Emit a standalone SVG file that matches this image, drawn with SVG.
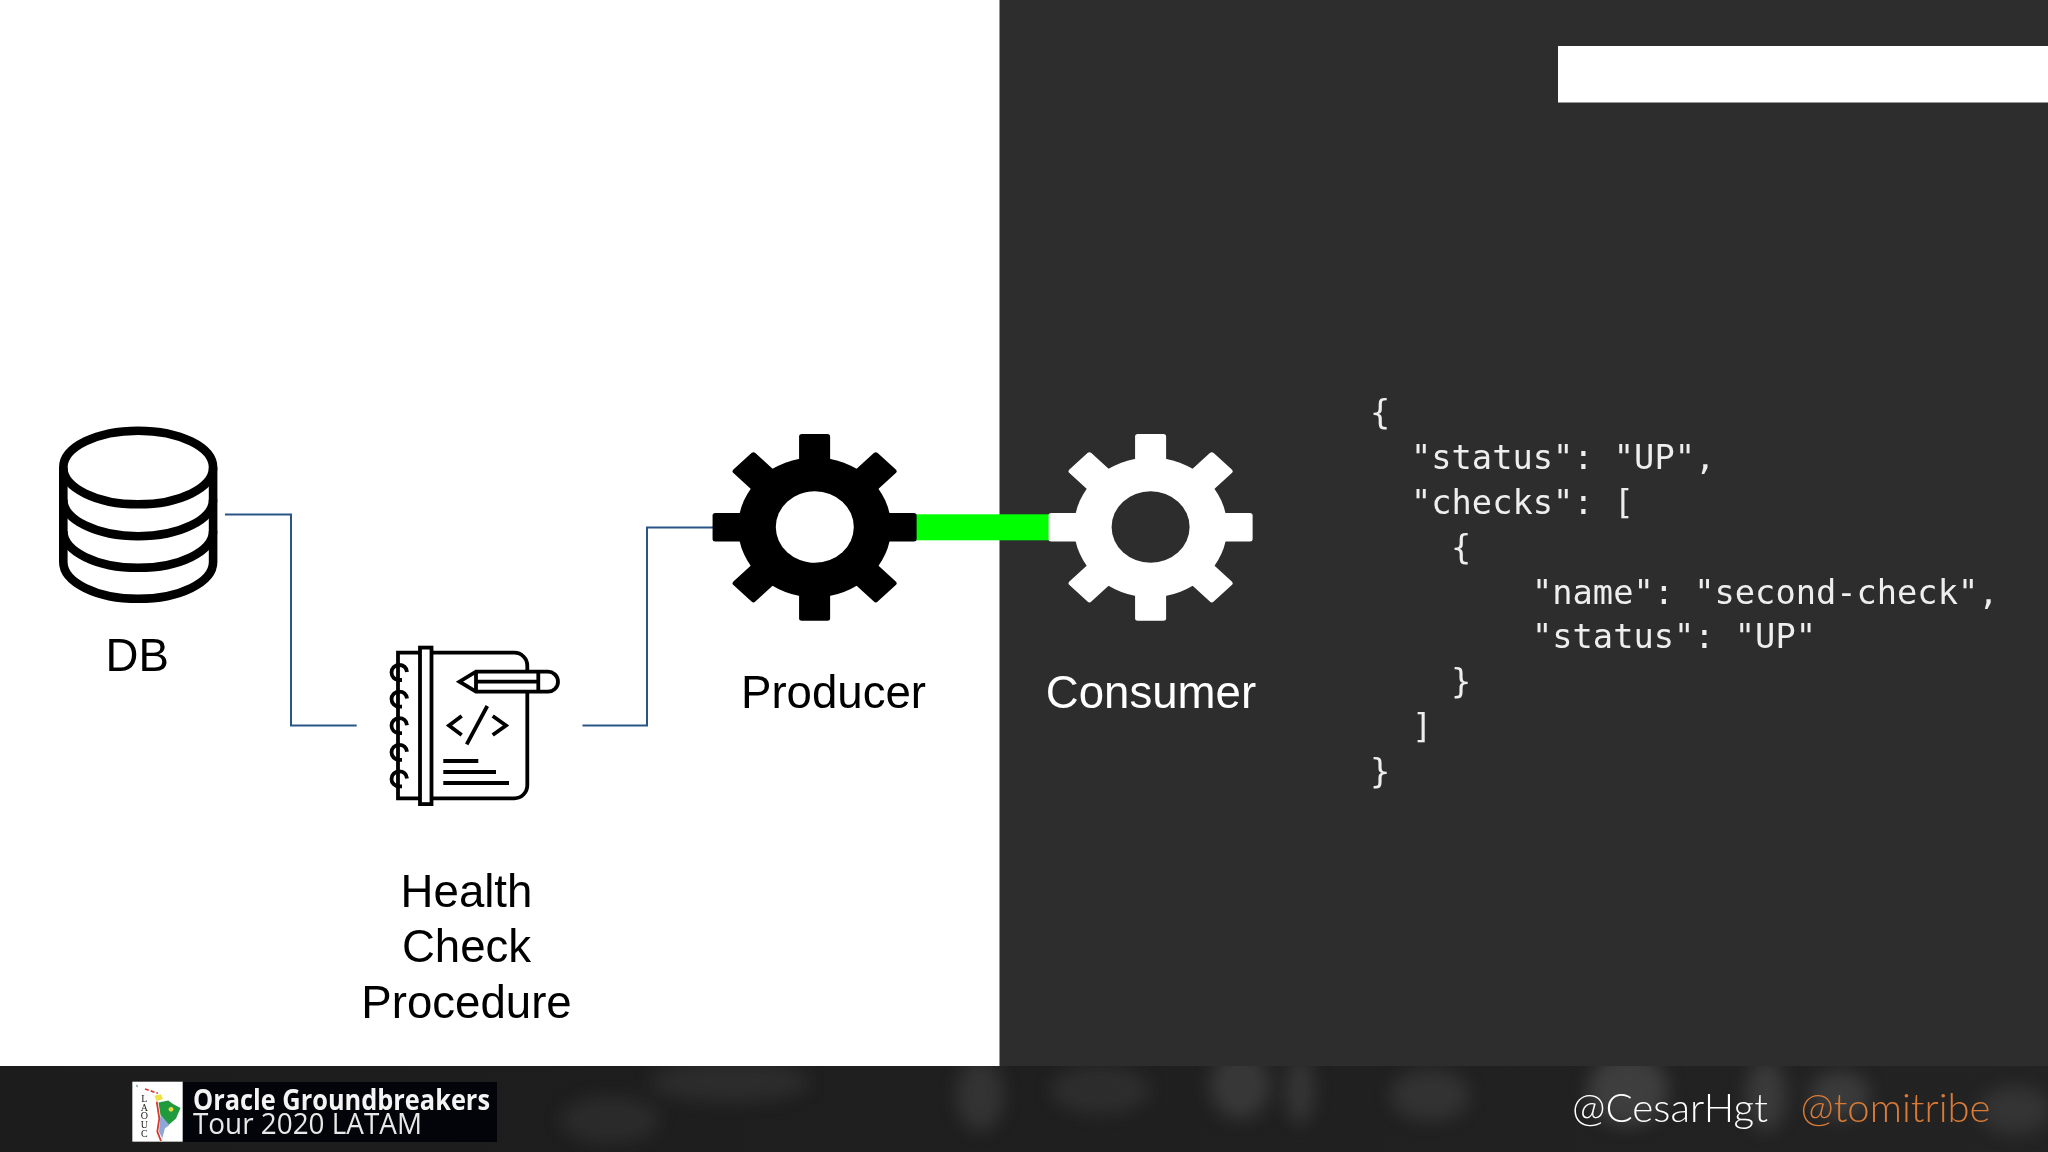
<svg xmlns="http://www.w3.org/2000/svg" width="2048" height="1152" viewBox="0 0 2048 1152">
<style>
.lbl{font-family:"Liberation Sans",Arial,sans-serif;font-size:45.6px;text-anchor:middle;fill:#000}
.lbl.w{fill:#fff}
.json{font-family:"DejaVu Sans Mono",monospace;font-size:33.7px;fill:#eeeeee;white-space:pre}
.conn{fill:none;stroke:#2a5485;stroke-width:2}
.db{fill:none;stroke:#000;stroke-width:8.6}
.nb{fill:none;stroke:#000;stroke-width:3.8}
.blob{fill:#6a6a6a}
.lato{font-family:Lato,"Open Sans",sans-serif;font-weight:300;font-size:39px}
</style>
<defs>
<g id="gear-shape">
<circle r="70"/>
<rect id="tooth" x="-14.2" y="-93.35" width="28.4" height="34" rx="2.5"/>
<use href="#tooth" transform="rotate(45)"/><use href="#tooth" transform="rotate(90)"/><use href="#tooth" transform="rotate(135)"/><use href="#tooth" transform="rotate(180)"/><use href="#tooth" transform="rotate(225)"/><use href="#tooth" transform="rotate(270)"/><use href="#tooth" transform="rotate(315)"/>
</g>
<filter id="soft" x="-30%" y="-30%" width="160%" height="160%"><feGaussianBlur stdDeviation="9"/></filter>
<clipPath id="footClip"><rect x="0" y="1066" width="2048" height="86"/></clipPath>
<linearGradient id="footBg" x1="0" x2="1" y1="0" y2="0"><stop offset="0" stop-color="#1c1c1c"/><stop offset="0.5" stop-color="#1f1f1f"/><stop offset="1" stop-color="#242323"/></linearGradient>
</defs>

<g id="background">
<rect x="0" y="0" width="2048" height="1152" fill="#fff"/>
<rect x="999.5" y="0" width="1048.5" height="1066" fill="#2d2d2e"/>
<rect x="1558" y="46" width="490" height="56.5" fill="#fff"/>
</g>

<g id="footer">
<rect x="0" y="1066" width="2048" height="86" fill="url(#footBg)"/>
<g clip-path="url(#footClip)">
<g filter="url(#soft)" opacity="0.5">
<ellipse class="blob" cx="610" cy="1120" rx="50" ry="24" opacity="0.35"/>
<ellipse class="blob" cx="730" cy="1082" rx="80" ry="20" opacity="0.4"/>
<ellipse class="blob" cx="980" cy="1095" rx="24" ry="36" opacity="0.55"/>
<ellipse class="blob" cx="1100" cy="1090" rx="50" ry="24" opacity="0.4"/>
<ellipse class="blob" cx="1240" cy="1085" rx="30" ry="34" opacity="0.65"/>
<ellipse class="blob" cx="1300" cy="1090" rx="14" ry="34" opacity="0.6"/>
<ellipse class="blob" cx="1430" cy="1095" rx="40" ry="26" opacity="0.5"/>
<ellipse class="blob" cx="1628" cy="1090" rx="40" ry="36" opacity="0.8"/>
<ellipse class="blob" cx="1766" cy="1095" rx="20" ry="36" opacity="0.7"/>
<ellipse class="blob" cx="1840" cy="1095" rx="30" ry="24" opacity="0.7"/>
<ellipse class="blob" cx="2015" cy="1110" rx="36" ry="24" opacity="0.5"/>
</g>
</g>
<rect x="132" y="1082" width="365" height="60" fill="#03030a"/>
<g id="logo">
<rect x="132.3" y="1081.7" width="50.4" height="60" fill="#fff"/>
<path d="M136 1084.5l2 1.5-1 1.5z" fill="#3a7a5a"/>
<path d="M145 1089l13 4.3" fill="none" stroke="#d83a3a" stroke-width="1.6" stroke-dasharray="4 2"/>
<path d="M154.3 1095.7L161 1094.3L163 1099L156.7 1101Z" fill="#f0e040"/>
<path d="M158.5 1102.5L168.3 1100.5L173 1104L180.5 1108L176 1118.5L168.5 1125L160.5 1115Z" fill="#1f9a3c"/>
<circle cx="171" cy="1109.3" r="2.4" fill="#e8d840"/>
<path d="M160.5 1115L169.5 1125L165 1128.3L162.3 1138.3L159 1131.7Z" fill="#8fa6d8"/>
<path d="M156.7 1101.7L159.3 1118.3L157.3 1131.7L161 1141" fill="none" stroke="#d8382e" stroke-width="1.8"/>
<g font-family="Liberation Serif,serif" font-size="10" fill="#222" text-anchor="middle">
<text x="144.3" y="1101.6">L</text><text x="144.3" y="1110.6">A</text><text x="144.3" y="1119.3">O</text><text x="144.3" y="1128.3">U</text><text x="144.3" y="1137.3">C</text>
</g>
</g>
<text x="193" y="1110" font-family="Open Sans,sans-serif" font-weight="700" font-size="28.5" fill="#f4f4f4" textLength="297" lengthAdjust="spacingAndGlyphs">Oracle Groundbreakers</text>
<text x="193" y="1134" font-family="Open Sans,sans-serif" font-weight="400" font-size="28.5" fill="#e8e8e8" textLength="229" lengthAdjust="spacingAndGlyphs">Tour 2020 LATAM</text>
<text class="lato" x="1572" y="1121.7" fill="#fff" textLength="196" lengthAdjust="spacingAndGlyphs">@CesarHgt</text>
<text class="lato" x="1800.5" y="1121.7" fill="#d97b36" textLength="190" lengthAdjust="spacingAndGlyphs">@tomitribe</text>
</g>

<g id="connectors">
<path class="conn" d="M225 514.5H291V725.5H356.7"/>
<path class="conn" d="M582.5 725.5H647V527.5H714"/>
<rect id="green-link" x="916" y="514.3" width="133" height="26" fill="#00ff00"/>
</g>

<g id="node-db">
<ellipse class="db" cx="138.2" cy="467.5" rx="74.9" ry="36.8"/>
<path class="db" d="M63.3 467.5V562A74.9 36.8 0 0 0 213.1 562V467.5"/>
<path class="db" d="M63.3 499.4A74.9 36.8 0 0 0 213.1 499.4M63.3 531A74.9 36.8 0 0 0 213.1 531"/>
<text class="lbl" x="137.2" y="670.5">DB</text>
</g>

<g id="node-health-check">
<path class="nb" d="M419 652.7H398V798.3H419M432 652.7H514.3A13 13 0 0 1 527.3 665.7V671M527.3 692V785.3A13 13 0 0 1 514.3 798.3H432"/>
<rect class="nb" x="420" y="647.6" width="11.5" height="156.5" fill="#fff"/>
<path class="nb" d="M407 672q-1-7-8-7a7.5 7.5 0 0 0 0 15l3 0M407 698.6q-1-7-8-7a7.5 7.5 0 0 0 0 15l3 0M407 725.2q-1-7-8-7a7.5 7.5 0 0 0 0 15l3 0M407 751.8q-1-7-8-7a7.5 7.5 0 0 0 0 15l3 0M407 778.4q-1-7-8-7a7.5 7.5 0 0 0 0 15l3 0"/>
<path class="nb" d="M476 671.7H548A10 10 0 0 1 548 691.7H476L459.5 681.7Z" fill="#fff"/>
<path class="nb" d="M476 671.7V691.7M476 681.7H538.3M538.3 671.7V691.7"/>
<path class="nb" d="M461.7 716L449 725.5L461.7 735M492.7 716L506 725.5L492.7 735M487.3 706L466.7 744.3"/>
<path class="nb" d="M443.3 761H478.3M443.3 772H496M443.3 783H509"/>
<text class="lbl" x="466.5" y="906.5">Health</text>
<text class="lbl" x="466.5" y="962">Check</text>
<text class="lbl" x="466.5" y="1017.5">Procedure</text>
</g>

<g id="node-producer">
<use href="#gear-shape" transform="translate(814.6 527.3) scale(1.093 1)" fill="#000"/>
<ellipse cx="814.8" cy="527" rx="39" ry="35.8" fill="#fff"/>
<text class="lbl" x="833.5" y="708">Producer</text>
</g>

<g id="node-consumer">
<use href="#gear-shape" transform="translate(1150.6 527.3) scale(1.093 1)" fill="#fff"/>
<ellipse cx="1150.6" cy="527" rx="39" ry="35.8" fill="#2d2d2e"/>
<text class="lbl w" x="1151" y="708">Consumer</text>
</g>

<g id="node-json">
<text class="json" x="1370" y="424">{</text>
<text class="json" x="1411" y="469">"status": "UP",</text>
<text class="json" x="1411" y="514">"checks": [</text>
<text class="json" x="1451" y="559">{</text>
<text class="json" x="1532" y="603.7">"name": "second-check",</text>
<text class="json" x="1532" y="648.3">"status": "UP"</text>
<text class="json" x="1451" y="693">}</text>
<text class="json" x="1412" y="738">]</text>
<text class="json" x="1370" y="783">}</text>
</g>
</svg>
